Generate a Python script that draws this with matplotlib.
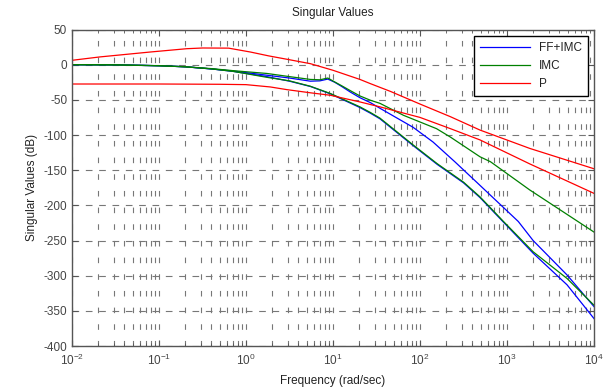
import numpy as np
import matplotlib
matplotlib.use("Agg")
import matplotlib.pyplot as plt
from matplotlib.ticker import FixedLocator, NullFormatter, LogFormatterSciNotation

plt.rcParams['font.family'] = ['Liberation Sans', 'DejaVu Sans']
plt.rcParams['mathtext.fontset'] = 'custom'
plt.rcParams['mathtext.rm'] = 'Liberation Sans'
plt.rcParams['mathtext.it'] = 'Liberation Sans'
plt.rcParams['axes.unicode_minus'] = False

# ---- data (log10 of frequency in rad/s, singular values in dB) ----
p_hi_logw = [-2, -1.68, -1.1, -0.68, -0.5, -0.2, 0.05, 0.26, 0.5, 0.74, 1.0, 1.31, 1.43, 1.66, 2.0, 2.35, 2.69, 3.26, 4.0]
p_hi_db = [6.2, 11, 18, 22.7, 23.7, 23.5, 18, 12.5, 7, 1.4, -8, -21, -27, -38, -56, -74, -93, -119, -148]

p_lo_logw = [-2, -1, -0.3, 0.0, 0.28, 0.47, 0.74, 0.97, 1.31, 1.54, 2.0, 2.35, 2.69, 3.26, 4.0]
p_lo_db = [-27.5, -27.5, -27.9, -28.4, -31.7, -35.5, -40, -43.5, -53, -60, -75, -91, -107, -141, -183]

imc_hi_logw = [-2, -1.5, -1.0, -0.7, -0.4, -0.15, 0.24, 0.5, 0.74, 0.85, 0.94, 1.02, 1.1, 1.2, 1.31, 1.43, 1.54, 1.81, 2.19, 2.35, 2.69, 2.81, 3.26, 4.0]
imc_hi_db = [0, -0.3, -1.5, -3, -5.6, -8.5, -12.5, -17, -21, -21.5, -19, -24.6, -30, -37, -44.5, -50.6, -55, -72, -91, -103, -131, -138, -178, -238]

ff_hi_logw = [-2, -1.5, -1.0, -0.7, -0.4, -0.15, 0.24, 0.5, 0.74, 0.85, 0.94, 1.02, 1.1, 1.2, 1.31, 1.43, 1.54, 1.92, 2.15, 2.4, 2.65, 3.13, 3.3, 3.69, 4.0]
ff_hi_db = [0, -0.3, -1.5, -3, -6, -9, -15, -19, -23.5, -23, -20.5, -25, -31, -39, -47, -54, -62, -89, -110, -138, -167, -223, -250, -299, -344]

lo_logw = [-2, -1.5, -1.0, -0.7, -0.4, -0.15, 0.24, 0.5, 0.74, 0.97, 1.31, 1.43, 1.54, 1.92, 2.2, 2.5, 2.69, 2.96, 3.3, 3.69, 4.0]
imc_lo_db = [0, -0.3, -1.5, -3, -6, -9.5, -18, -23, -30.7, -41, -60, -68, -76, -114, -141, -167, -188, -223, -266, -304, -342]
ff_lo_db = [0, -0.3, -1.5, -3, -6, -9.5, -17, -23.5, -31, -41.5, -61, -69, -77, -115, -142, -168, -189, -224, -268, -313, -361]

x_ticks = [1e-2, 1e-1, 1e0, 1e1, 1e2, 1e3, 1e4]
y_ticks = [-400, -350, -300, -250, -200, -150, -100, -50, 0, 50]
labels = ['FF+IMC', 'IMC', 'P']
colors = ['#0000ff', '#008000', '#ff0000']

# ---- figure ----
fig = plt.figure(figsize=(6.14, 3.88), dpi=100)
ax = fig.add_axes([72/614, 1-346/388, (594-72)/614, (346-29.5)/388])

lw = 0.9
w = lambda lw_: 10.0 ** np.asarray(lw_)
l1, = ax.plot(w(ff_hi_logw), ff_hi_db, color=colors[0], lw=lw, label=labels[0])
ax.plot(w(lo_logw), ff_lo_db, color=colors[0], lw=lw)
l2, = ax.plot(w(imc_hi_logw), imc_hi_db, color=colors[1], lw=lw, label=labels[1])
ax.plot(w(lo_logw), imc_lo_db, color=colors[1], lw=lw)
l3, = ax.plot(w(p_hi_logw), p_hi_db, color=colors[2], lw=lw, label=labels[2])
ax.plot(w(p_lo_logw), p_lo_db, color=colors[2], lw=lw)

ax.set_xscale('log')
ax.set_xlim(x_ticks[0], x_ticks[-1])
ax.set_ylim(y_ticks[0], y_ticks[-1])
ax.yaxis.set_major_locator(FixedLocator(y_ticks))
ax.xaxis.set_major_locator(FixedLocator(x_ticks))
ax.xaxis.set_major_formatter(LogFormatterSciNotation())
minor = [d * s for d in x_ticks[:-1] for s in range(2, 10)]
ax.xaxis.set_minor_locator(FixedLocator(minor))
ax.xaxis.set_minor_formatter(NullFormatter())

gc = '#777777'
ax.grid(True, which='major', axis='y', color=gc, lw=0.8, linestyle=(0, (6, 6)))
ax.grid(True, which='both', axis='x', color=gc, lw=0.8, linestyle=(0, (5, 10)))
ax.set_axisbelow(True)

sc = '#555555'
for s in ax.spines.values():
    s.set_color(sc)
    s.set_linewidth(1.0)
ax.tick_params(which='both', direction='in', top=True, right=True, color=sc,
               labelcolor='#444444', labelsize=8.5)
ax.tick_params(which='major', length=4)
ax.tick_params(which='minor', length=2.5)
ax.tick_params(axis='x', pad=5)

ax.set_title('Singular Values', fontsize=8.5, color='#222222', pad=10)
ax.set_xlabel('Frequency (rad/sec)', fontsize=8.5, color='#222222', labelpad=5)
ax.set_ylabel('Singular Values (dB)', fontsize=8.5, color='#222222', labelpad=4)

leg = ax.legend(handles=[l1, l2, l3], loc='upper right', fontsize=8.5,
                frameon=True, fancybox=False, framealpha=1, edgecolor='black',
                borderaxespad=0.55, handlelength=4.3, handletextpad=0.7,
                labelspacing=0.5, borderpad=0.5)
leg.get_frame().set_linewidth(1.0)
for t in leg.get_texts():
    t.set_color('#222222')

fig.savefig('out.png', dpi=100)
